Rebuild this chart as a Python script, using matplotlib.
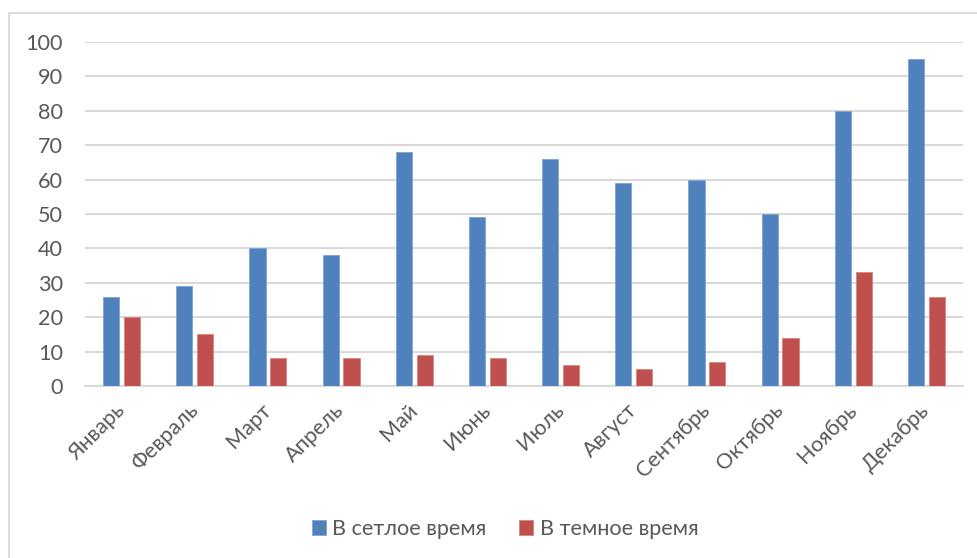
import matplotlib
matplotlib.use("Agg")
import matplotlib.pyplot as plt
from matplotlib.patches import Rectangle
import numpy as np

months = ["Январь", "Февраль", "Март", "Апрель", "Май", "Июнь",
          "Июль", "Август", "Сентябрь", "Октябрь", "Ноябрь", "Декабрь"]
day_values = [26, 29, 40, 38, 68, 49, 66, 59, 60, 50, 80, 95]
night_values = [20, 15, 8, 8, 9, 8, 6, 5, 7, 14, 33, 26]
series_names = ["В сетлое время", "В темное время"]
y_ticks = list(range(0, 101, 10))

plt.rcParams["font.family"] = ["Lato", "DejaVu Sans"]
text_color = "#595959"
grid_color = "#D9D9D9"
blue = "#4F81BD"
red = "#C0504D"
fs = 15.6

W, H = 978, 558
fig = plt.figure(figsize=(W / 100, H / 100), dpi=100)

# outer chart frame
fig.patches.append(Rectangle((9 / W, -0.05), 1.2, 1 - 13 / H + 0.05,
                             transform=fig.transFigure, fill=False,
                             edgecolor=grid_color, linewidth=1.3, zorder=0))

ax = fig.add_axes([85 / W, 1 - 386 / H, (963 - 85) / W, (386 - 42) / H])

x = np.arange(len(months))
bw = 0.22
off = 0.143
ax.bar(x - off, day_values, bw, color=blue, edgecolor="#7FA3D3",
       linewidth=0.6, label=series_names[0], zorder=3)
ax.bar(x + off, night_values, bw, color=red, edgecolor="#D78582",
       linewidth=0.6, label=series_names[1], zorder=3)

ax.set_xlim(-0.5, len(months) - 0.5)
ax.set_ylim(0, 100)
ax.set_yticks(y_ticks)
ax.yaxis.grid(True, color=grid_color, linewidth=1.5, zorder=0)
ax.set_axisbelow(True)
for s in ["left", "right", "top"]:
    ax.spines[s].set_visible(False)
ax.spines["bottom"].set_color(grid_color)
ax.spines["bottom"].set_linewidth(1.5)
ax.tick_params(axis="y", length=0, pad=16, labelsize=fs, labelcolor=text_color)
ax.tick_params(axis="x", length=0, pad=4, labelsize=fs, labelcolor=text_color)

ax.set_xticks(x)
ax.set_xticklabels(months, rotation=45, ha="right", va="center",
                   rotation_mode="anchor")
for lbl in ax.get_xticklabels():
    lbl.set_y(-0.045)

leg = fig.legend(loc="center", bbox_to_anchor=(505 / W, 1 - 529 / H), ncol=2,
                 frameon=False, fontsize=fs, handlelength=0.65,
                 handleheight=0.65, handletextpad=0.3, columnspacing=1.5)
for t in leg.get_texts():
    t.set_color(text_color)

fig.savefig("out.png", dpi=100)
